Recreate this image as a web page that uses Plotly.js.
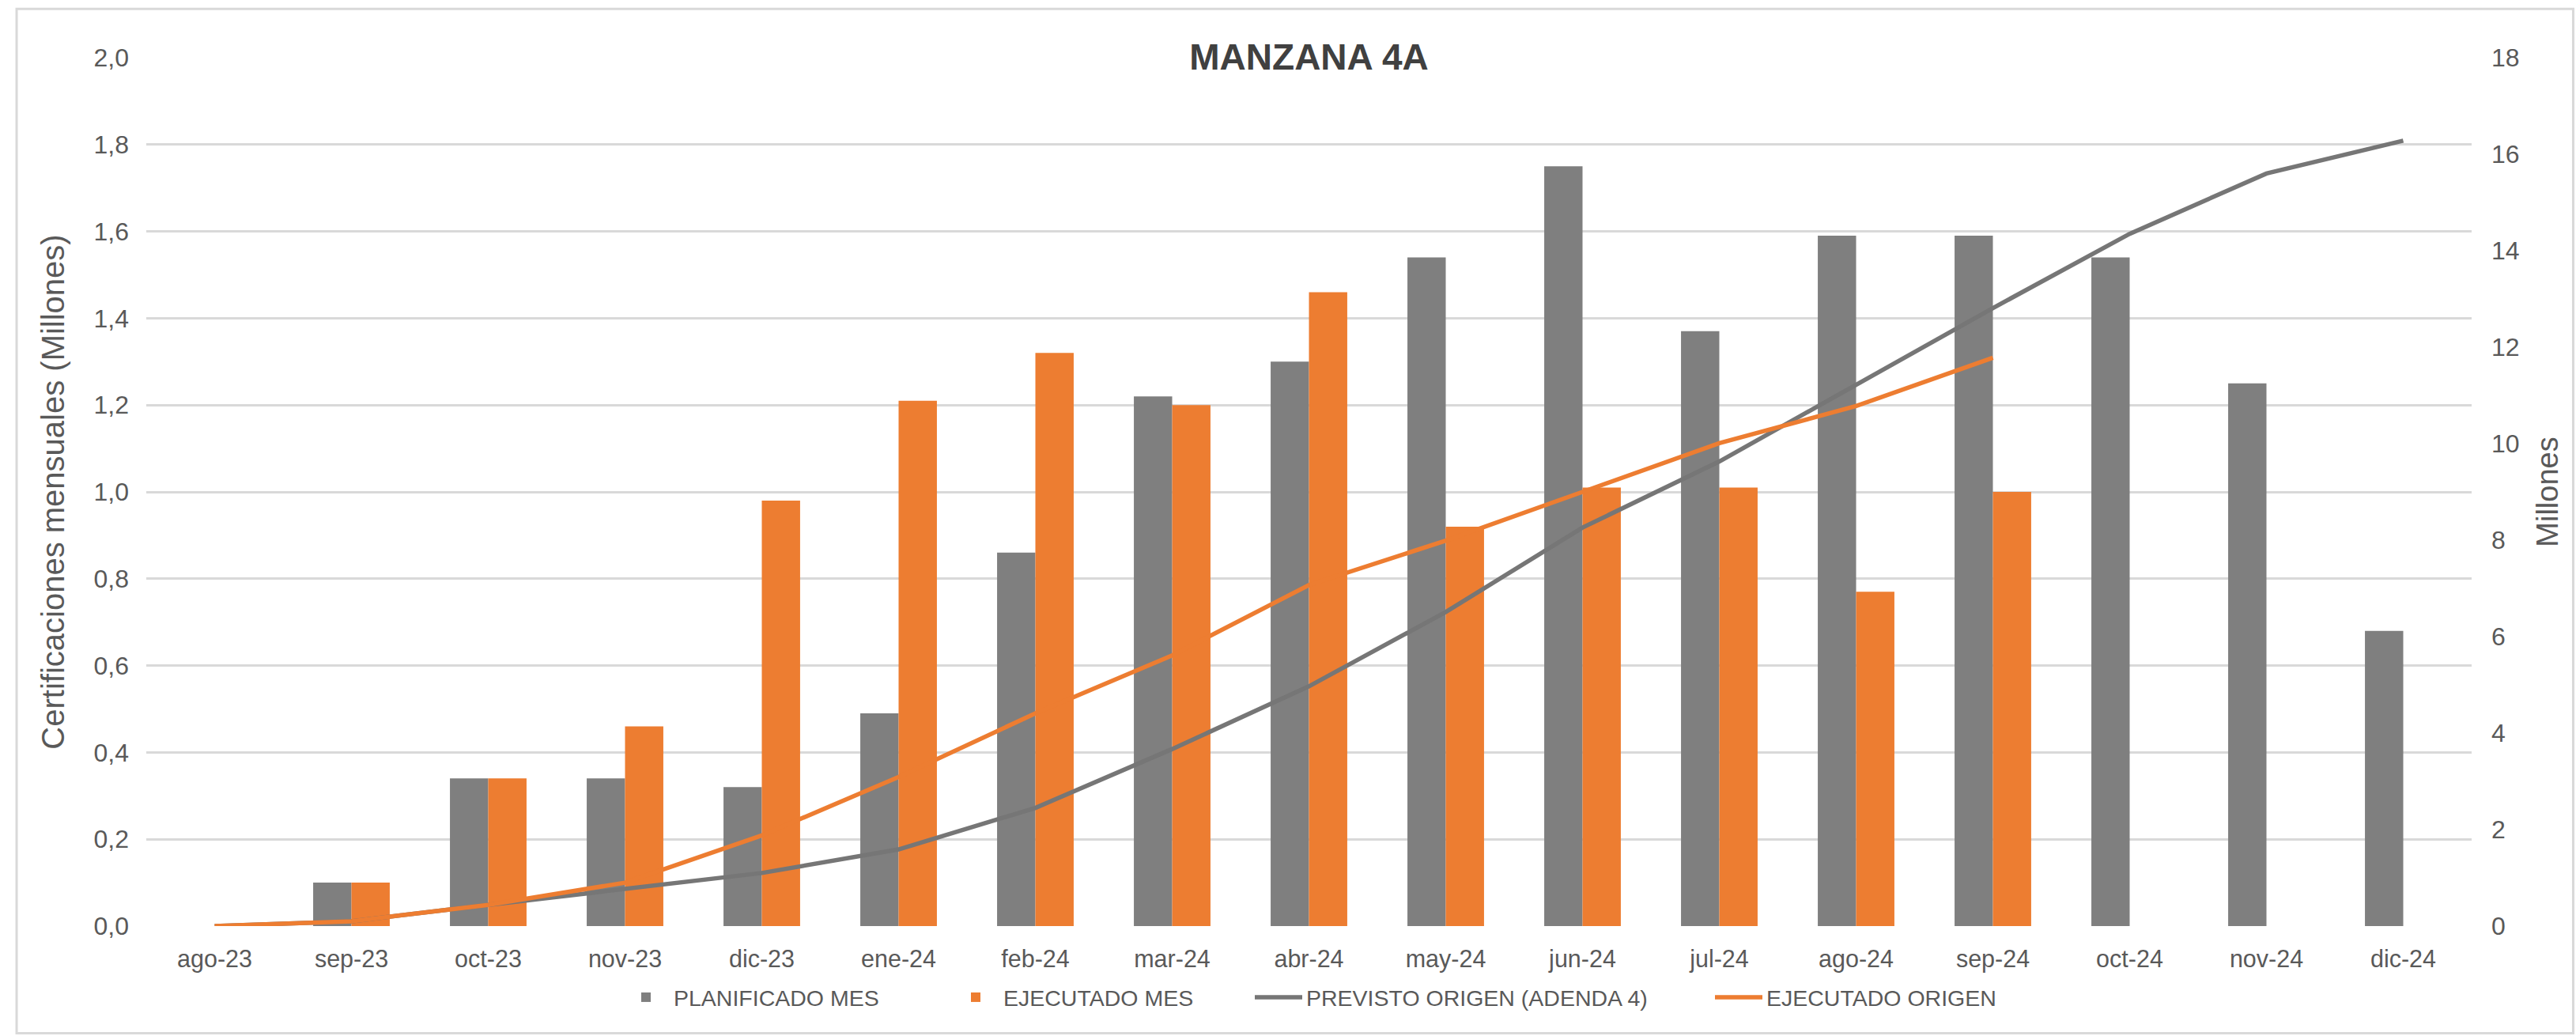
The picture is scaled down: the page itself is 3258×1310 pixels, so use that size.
<!DOCTYPE html>
<html>
<head>
<meta charset="utf-8">
<script src="https://cdn.plot.ly/plotly-3.0.1.min.js"></script>
<style>
  html, body { margin: 0; padding: 0; background: #ffffff; }
  #chart { width: 3258px; height: 1310px; }
</style>
</head>
<body>
<div id="chart"></div>
<script>
// ---- Data (values in millions) ----
const months = ["ago-23", "sep-23", "oct-23", "nov-23", "dic-23", "ene-24", "feb-24", "mar-24",
                "abr-24", "may-24", "jun-24", "jul-24", "ago-24", "sep-24", "oct-24", "nov-24", "dic-24"];

// Monthly bars (left axis)
const planificadoMes = [0, 0.10, 0.34, 0.34, 0.32, 0.49, 0.86, 1.22, 1.30, 1.54, 1.75, 1.37, 1.59, 1.59, 1.54, 1.25, 0.68];
const ejecutadoMes   = [0, 0.10, 0.34, 0.46, 0.98, 1.21, 1.32, 1.20, 1.46, 0.92, 1.01, 1.01, 0.77, 1.00, null, null, null];

// Accumulated lines (right axis)
const previstoOrigen  = [0, 0.10, 0.44, 0.78, 1.10, 1.59, 2.45, 3.67, 4.97, 6.51, 8.26, 9.63, 11.22, 12.81, 14.35, 15.60, 16.28];
const ejecutadoOrigen = [0, 0.10, 0.44, 0.90, 1.88, 3.09, 4.41, 5.61, 7.07, 7.99, 9.00, 10.01, 10.78, 11.78, null, null, null];

const seriesNames = ["PLANIFICADO MES", "EJECUTADO MES", "PREVISTO ORIGEN (ADENDA 4)", "EJECUTADO ORIGEN"];
const chartTitle = "MANZANA 4A";
const leftTitle = "Certificaciones mensuales (Millones)";
const rightTitle = "Millones";

// ---- Styles ----
const GRAY = "#7f7f7f";
const ORANGE = "#ed7d31";
const TXT = "#595959";
const FONT = "Liberation Sans, Arial, sans-serif";
const legendWidths = [342, 308, 507, 290];

const traces = [
  { type: "bar", name: seriesNames[0], x: months, y: planificadoMes, yaxis: "y",
    marker: { color: GRAY }, legendwidth: legendWidths[0] },
  { type: "bar", name: seriesNames[1], x: months, y: ejecutadoMes, yaxis: "y",
    marker: { color: ORANGE }, legendwidth: legendWidths[1] },
  { type: "scatter", mode: "lines", name: seriesNames[2], x: months, y: previstoOrigen, yaxis: "y2",
    line: { color: "#767676", width: 5.5 }, connectgaps: false, legendwidth: legendWidths[2] },
  { type: "scatter", mode: "lines", name: seriesNames[3], x: months, y: ejecutadoOrigen, yaxis: "y2",
    line: { color: ORANGE, width: 5.5 }, connectgaps: false, legendwidth: legendWidths[3] }
];

const L = 185, R = 131.5, T = 72.8, B = 139.4;
const W = 3258, H = 1310;
const pw = W - L - R, ph = H - T - B;
const px2x = v => (v - L) / pw;
const py2y = v => (H - B - v) / ph;

const layout = {
  width: W, height: H,
  paper_bgcolor: "#ffffff", plot_bgcolor: "#ffffff",
  margin: { l: L, r: R, t: T, b: B, pad: 0 },
  separators: ",.",
  font: { family: FONT, color: TXT, size: 31 },
  title: { text: "<b>" + chartTitle + "</b>", font: { family: FONT, size: 46, color: "#404040" },
           x: 0.5, xref: "paper", xanchor: "center", y: 1 - 71.5 / H, yref: "container", yanchor: "middle" },
  barmode: "group", bargap: 0.44, bargroupgap: 0,
  showlegend: true,
  legend: { orientation: "h", x: 0.5, xanchor: "center", y: py2y(1261), yanchor: "middle",
            font: { family: FONT, size: 28.5, color: TXT }, itemwidth: 60, traceorder: "normal",
            entrywidthmode: "pixels", bgcolor: "rgba(0,0,0,0)" },
  xaxis: { type: "category", showgrid: false, zeroline: false, showline: false, ticks: "",
           ticklabelstandoff: 20,
           tickfont: { family: FONT, size: 30.5, color: TXT }, automargin: false },
  yaxis: { range: [0, 2.0], dtick: 0.2, tick0: 0, tickformat: ".1f", showgrid: true,
           gridcolor: "#d9d9d9", gridwidth: 3, zeroline: false, showline: false, ticks: "",
           ticklabelstandoff: 21,
           tickfont: { family: FONT, size: 32, color: TXT }, automargin: false,
           title: { text: leftTitle, standoff: 24, font: { family: FONT, size: 40, color: TXT } } },
  yaxis2: { range: [0, 18], dtick: 2, tick0: 0, overlaying: "y", side: "right", showgrid: false,
            zeroline: false, showline: false, ticks: "", ticklabelstandoff: 24,
            tickfont: { family: FONT, size: 32, color: TXT }, automargin: false,
            title: { text: rightTitle, standoff: 22, font: { family: FONT, size: 38, color: TXT } } },
  shapes: [
    { type: "rect", xref: "paper", yref: "paper", x0: px2x(21), x1: px2x(3255), y0: py2y(1306), y1: py2y(11),
      line: { color: "#d9d9d9", width: 3 }, fillcolor: "rgba(0,0,0,0)", layer: "below" },
    { type: "rect", xref: "paper", yref: "paper", x0: px2x(1487), x1: px2x(1807), y0: py2y(86), y1: py2y(60),
      line: { width: 0 }, fillcolor: "#ffffff", layer: "above" }
  ]
};

Plotly.newPlot("chart", traces, layout, { displayModeBar: false, staticPlot: true });
</script>
</body>
</html>
